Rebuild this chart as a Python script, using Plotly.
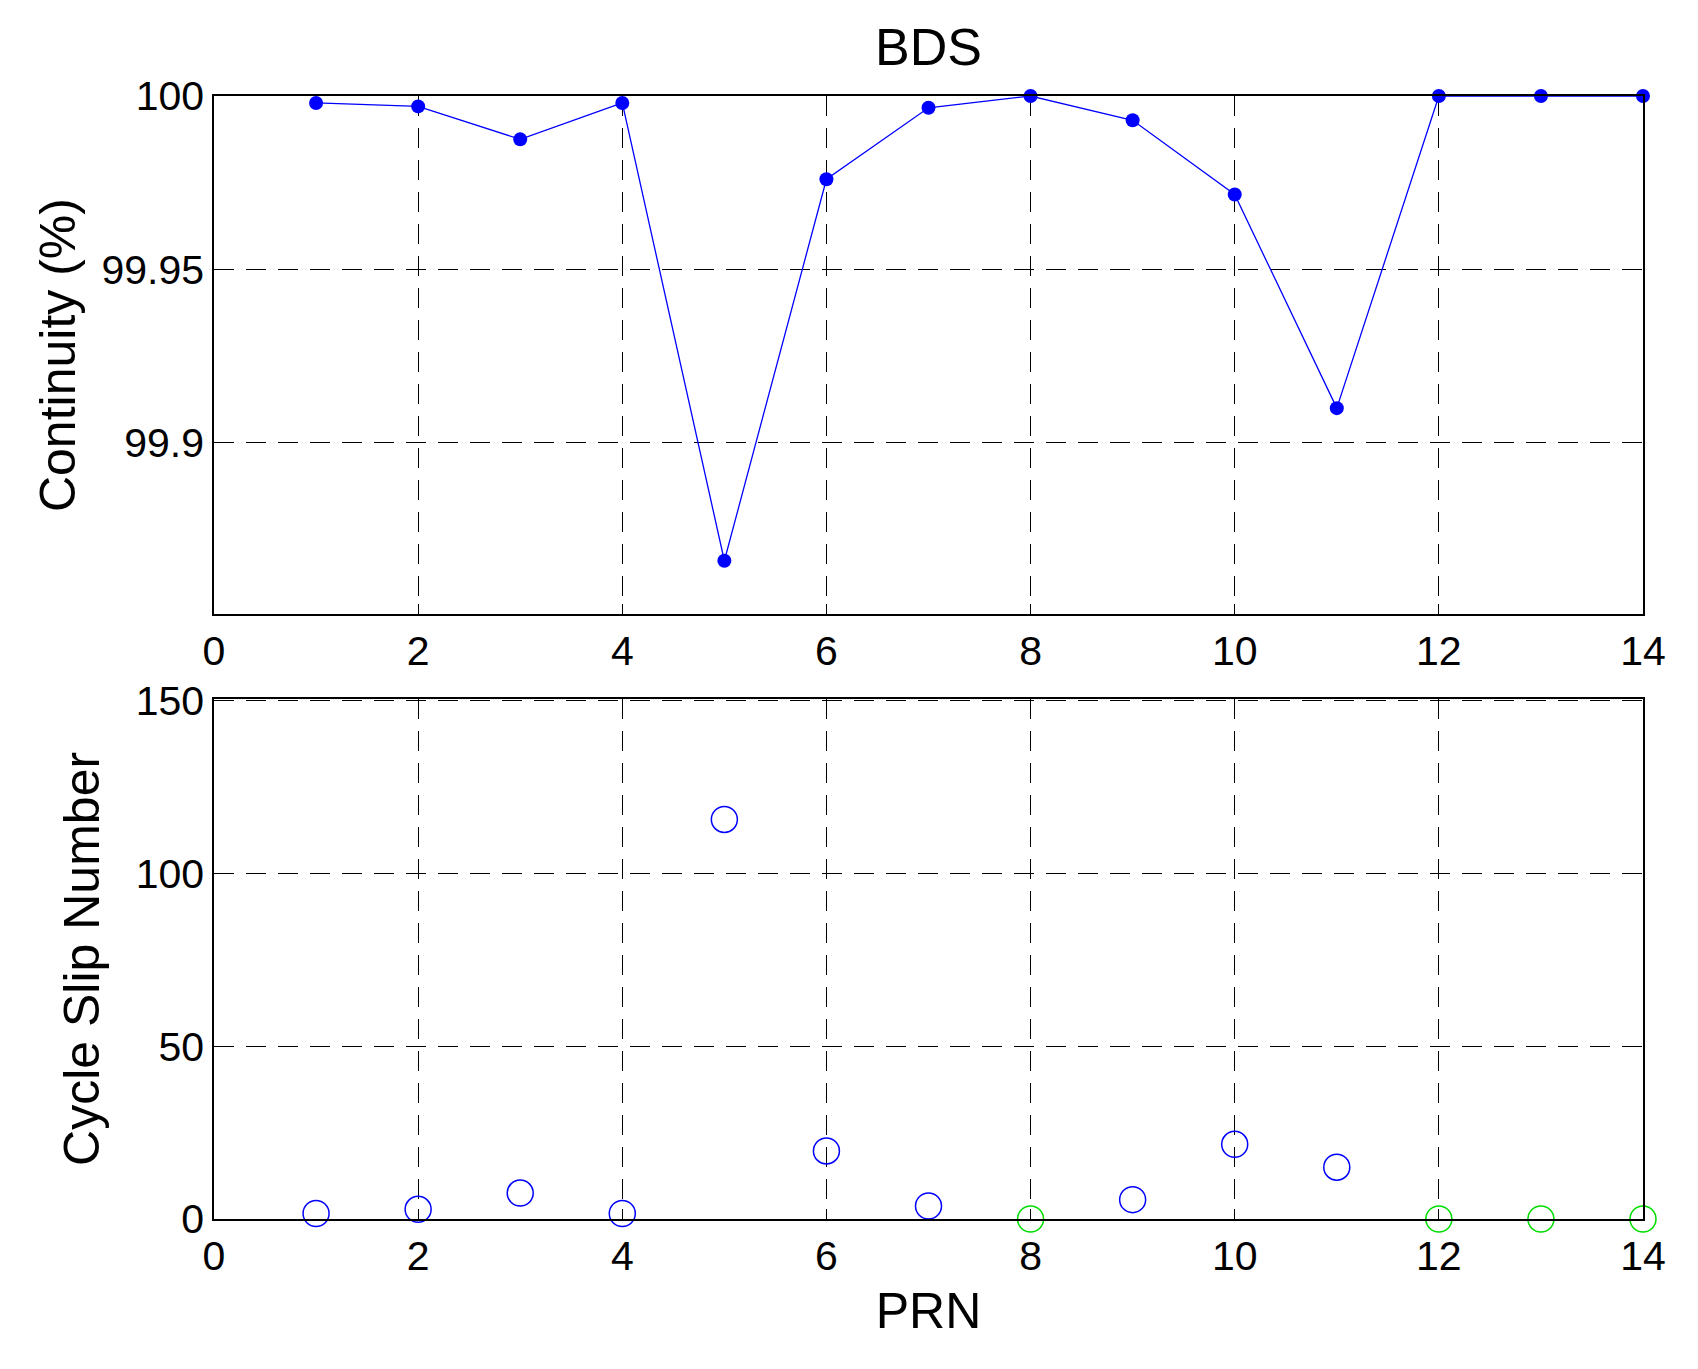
import plotly.graph_objects as go
from plotly.subplots import make_subplots

prn = list(range(1, 15))
continuity = [99.998, 99.997, 99.9875, 99.998, 99.866, 99.976, 99.9966, 100.0, 99.993, 99.9716, 99.91, 100.0, 100.0, 100.0]
slip_prn_blue = [1, 2, 3, 4, 5, 6, 7, 9, 10, 11]
slip_blue = [1.6, 2.8, 7.5, 1.6, 115.6, 19.7, 3.75, 5.6, 21.6, 15.0]
slip_prn_green = [8, 12, 13, 14]
slip_green = [0, 0, 0, 0]

fig = make_subplots(rows=2, cols=1)
fig.add_trace(go.Scatter(x=prn, y=continuity, mode="lines+markers", cliponaxis=False,
                         line=dict(color="blue", width=1.3),
                         marker=dict(color="blue", size=14)), row=1, col=1)
fig.add_trace(go.Scatter(x=slip_prn_blue, y=slip_blue, mode="markers", cliponaxis=False,
                         marker=dict(symbol="circle-open", color="blue", size=26, line=dict(width=1.5))), row=2, col=1)
fig.add_trace(go.Scatter(x=slip_prn_green, y=slip_green, mode="markers", cliponaxis=False,
                         marker=dict(symbol="circle-open", color="#00dd00", size=26, line=dict(width=1.5))), row=2, col=1)

font = dict(family="Liberation Sans, Arial", size=41, color="black")
fig.update_layout(width=1698, height=1369, showlegend=False,
                  paper_bgcolor="white", plot_bgcolor="white", font=font,
                  margin=dict(l=206, r=63, t=88, b=158),
                  title=dict(text="BDS", x=0.5, xref="paper", xanchor="center", y=0.985, yanchor="top",
                             font=dict(size=52, family="Liberation Sans, Arial")))
ax = dict(showline=True, linecolor="black", linewidth=1.5, mirror=True,
          showgrid=True, gridcolor="black", griddash="20px,12px", gridwidth=1.2,
          ticks="inside", ticklen=10, tickcolor="black", zeroline=False)
fig.update_xaxes(**ax, range=[0, 14], dtick=2)
fig.update_yaxes(**ax)
fig.update_layout(
    yaxis=dict(domain=[0.5386, 1], range=[99.8506, 100], tickvals=[99.9, 99.95, 100],
               ticktext=["99.9", "99.95", "100"],
               title=dict(text="Continuity (%)", font=dict(size=50), standoff=10)),
    yaxis2=dict(domain=[0, 0.4632], range=[0, 150.5], tickvals=[0, 50, 100, 150],
                title=dict(text="Cycle Slip Number", font=dict(size=50), standoff=20)),
    xaxis2=dict(title=dict(text="PRN", font=dict(size=50), standoff=15)),
)
fig.write_html("out.html")
